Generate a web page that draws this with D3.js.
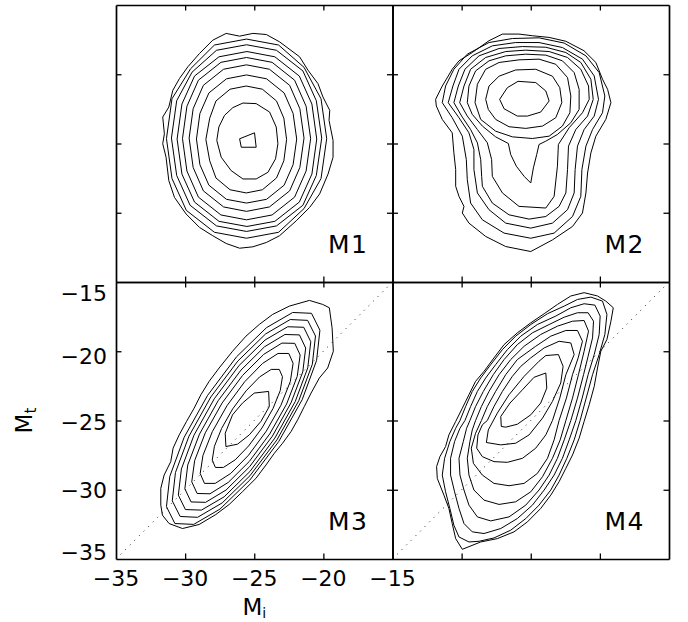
<!DOCTYPE html>
<html>
<head>
<meta charset="utf-8">
<script src="https://cdn.jsdelivr.net/npm/d3@7"></script>
<style>
  html, body { margin: 0; padding: 0; background: #ffffff; }
  svg { display: block; }
</style>
</head>
<body>
<svg id="chart" width="688" height="622"></svg>
<script>
// ---------------- DATA ----------------
const xTicks = [-35, -30, -25, -20, -15];
const yTicks = [-15, -20, -25, -30, -35];
const panelNames = ["M1", "M2", "M3", "M4"];
const xTitleMain = "M", xTitleSub = "i";
const yTitleMain = "M", yTitleSub = "t";
const diagonal = [[-35, -35], [-15, -15]];

// M1 contours (Mi, Mt), outer to inner
const m1Contours = [
  [[-27.03,-17.05],[-26.06,-17.25],[-25.10,-17.05],[-24.13,-17.13],[-23.17,-17.66],[-21.72,-18.74],[-21.11,-19.71],[-20.39,-20.68],[-20.03,-21.64],[-19.54,-22.61],[-19.59,-23.33],[-19.30,-24.78],[-19.30,-25.99],[-19.66,-27.20],[-20.27,-28.64],[-20.99,-29.61],[-21.96,-30.58],[-23.17,-31.66],[-24.13,-32.15],[-25.10,-32.46],[-26.06,-32.56],[-27.03,-32.22],[-28.00,-31.66],[-28.96,-31.06],[-29.93,-30.09],[-30.77,-28.89],[-31.18,-27.68],[-31.38,-25.99],[-31.62,-25.02],[-31.50,-24.30],[-31.62,-23.09],[-31.18,-22.37],[-30.89,-21.16],[-30.41,-20.31],[-29.81,-19.47],[-28.96,-18.50],[-28.00,-17.54]],
  [[-25.56,-17.46],[-23.24,-17.89],[-21.40,-19.50],[-20.17,-21.77],[-19.76,-24.65],[-20.17,-27.53],[-21.40,-29.70],[-23.24,-31.41],[-25.56,-31.84],[-27.88,-31.41],[-29.91,-29.83],[-30.95,-27.53],[-31.35,-24.65],[-30.95,-21.77],[-29.60,-19.60],[-27.88,-17.89]],
  [[-25.56,-17.87],[-23.39,-18.27],[-21.48,-19.76],[-20.51,-21.91],[-20.12,-24.61],[-20.51,-27.31],[-21.48,-29.46],[-23.39,-30.95],[-25.56,-31.35],[-27.73,-30.95],[-29.64,-29.46],[-30.61,-27.31],[-30.99,-24.61],[-30.61,-21.91],[-29.50,-19.85],[-27.73,-18.27]],
  [[-25.53,-18.36],[-23.51,-18.74],[-21.74,-20.13],[-20.83,-22.15],[-20.48,-24.68],[-20.83,-27.21],[-21.74,-29.23],[-23.51,-30.62],[-25.53,-30.99],[-27.55,-30.62],[-29.32,-29.23],[-30.23,-27.21],[-30.58,-24.68],[-30.23,-22.15],[-29.32,-20.13],[-27.55,-18.74]],
  [[-25.56,-18.79],[-23.71,-19.14],[-22.08,-20.43],[-21.25,-22.31],[-20.92,-24.65],[-21.25,-26.99],[-22.08,-28.87],[-23.71,-30.16],[-25.56,-30.51],[-27.41,-30.16],[-29.04,-28.87],[-29.87,-26.99],[-30.19,-24.65],[-29.87,-22.31],[-29.04,-20.43],[-27.41,-19.14]],
  [[-25.56,-19.32],[-23.90,-19.64],[-22.44,-20.80],[-21.70,-22.49],[-21.40,-24.61],[-21.70,-26.73],[-22.44,-28.42],[-23.90,-29.58],[-25.56,-29.90],[-27.22,-29.58],[-28.68,-28.42],[-29.42,-26.73],[-29.71,-24.61],[-29.42,-22.49],[-28.68,-20.80],[-27.22,-19.64]],
  [[-25.56,-20.05],[-24.11,-20.33],[-22.84,-21.35],[-22.19,-22.83],[-21.93,-24.68],[-22.19,-26.53],[-22.84,-28.01],[-24.11,-29.03],[-25.56,-29.30],[-27.01,-29.03],[-28.28,-28.01],[-28.93,-26.53],[-29.18,-24.68],[-28.93,-22.83],[-28.28,-21.35],[-27.01,-20.33]],
  [[-25.58,-20.85],[-24.41,-21.08],[-23.39,-21.93],[-22.86,-23.17],[-22.66,-24.71],[-22.86,-26.25],[-23.39,-27.49],[-24.41,-28.34],[-25.58,-28.57],[-26.75,-28.34],[-27.77,-27.49],[-28.22,-26.25],[-28.50,-24.71],[-28.22,-23.17],[-27.77,-21.93],[-26.75,-21.08]],
  [[-25.82,-22.08],[-24.86,-22.12],[-23.89,-22.73],[-23.41,-23.81],[-23.29,-25.02],[-23.46,-26.11],[-24.01,-27.08],[-24.86,-27.56],[-25.82,-27.56],[-26.67,-26.96],[-27.39,-25.99],[-27.71,-24.78],[-27.56,-23.81],[-27.15,-22.97],[-26.55,-22.41]],
  [[-26.06,-24.66],[-24.98,-24.23],[-24.86,-25.27],[-25.94,-25.27]]
];

// M2 contours
const m2Contours = [
  [[-31.88,-21.81],[-31.40,-20.85],[-30.68,-19.64],[-30.19,-19.03],[-29.23,-18.43],[-28.02,-17.58],[-27.05,-17.10],[-25.85,-17.10],[-24.88,-17.22],[-23.67,-17.34],[-22.46,-17.62],[-21.15,-18.30],[-20.29,-19.15],[-19.81,-20.36],[-19.44,-21.09],[-19.20,-22.05],[-19.57,-23.26],[-20.29,-24.47],[-20.65,-25.68],[-20.89,-27.13],[-21.01,-28.57],[-21.26,-30.02],[-21.98,-30.99],[-23.43,-31.96],[-25.00,-32.80],[-26.81,-32.44],[-28.26,-31.71],[-29.47,-30.75],[-29.95,-30.02],[-29.83,-29.54],[-30.19,-28.82],[-30.43,-28.09],[-30.43,-26.88],[-30.56,-25.68],[-30.68,-24.23],[-31.40,-23.26],[-31.83,-22.29]],
  [[-31.40,-22.05],[-31.16,-20.85],[-30.56,-19.64],[-29.59,-18.55],[-28.02,-17.71],[-26.33,-17.42],[-24.40,-17.37],[-22.58,-17.75],[-21.01,-18.67],[-20.05,-19.88],[-19.64,-21.57],[-19.81,-22.78],[-20.53,-23.99],[-21.01,-25.19],[-21.30,-26.88],[-21.38,-28.82],[-21.98,-30.27],[-23.31,-31.47],[-25.00,-31.84],[-26.93,-31.47],[-28.50,-30.51],[-29.35,-29.30],[-29.59,-27.61],[-29.66,-26.16],[-29.95,-24.47],[-30.68,-23.14]],
  [[-30.97,-22.05],[-30.63,-20.85],[-30.19,-19.64],[-29.23,-18.67],[-27.78,-17.95],[-26.09,-17.71],[-24.40,-17.71],[-22.71,-18.07],[-21.26,-18.91],[-20.41,-20.12],[-20.10,-21.81],[-20.41,-23.02],[-21.14,-23.99],[-21.62,-25.19],[-21.79,-26.88],[-21.86,-28.57],[-22.34,-29.78],[-23.43,-30.75],[-25.00,-31.11],[-26.81,-30.75],[-28.02,-29.78],[-28.86,-28.57],[-29.11,-26.88],[-29.11,-25.43],[-29.47,-24.23],[-30.19,-23.14]],
  [[-30.56,-22.05],[-30.24,-20.85],[-29.76,-19.64],[-28.74,-18.67],[-27.29,-18.14],[-25.60,-18.00],[-23.91,-18.05],[-22.46,-18.43],[-21.38,-19.15],[-20.65,-20.36],[-20.48,-21.81],[-20.89,-23.02],[-21.74,-23.99],[-22.27,-25.19],[-22.34,-26.88],[-22.46,-28.57],[-22.95,-29.54],[-23.91,-30.27],[-25.12,-30.46],[-26.57,-30.15],[-27.78,-29.30],[-28.50,-28.09],[-28.55,-27.37],[-28.62,-26.16],[-28.86,-24.95],[-29.35,-23.99],[-30.00,-23.02]],
  [[-30.14,-22.05],[-29.83,-20.85],[-29.35,-19.64],[-28.26,-18.79],[-26.81,-18.36],[-25.36,-18.26],[-23.67,-18.36],[-22.34,-18.79],[-21.38,-19.64],[-20.82,-20.85],[-20.77,-21.81],[-21.26,-22.78],[-22.22,-23.86],[-23.00,-25.07],[-23.07,-26.64],[-23.31,-28.82],[-23.91,-29.66],[-25.85,-29.54],[-27.05,-28.57],[-27.78,-27.37],[-27.83,-26.16],[-28.14,-24.95],[-28.86,-23.99],[-29.59,-23.02]],
  [[-29.59,-22.05],[-29.47,-20.85],[-28.99,-19.76],[-28.02,-19.03],[-26.81,-18.67],[-25.36,-18.55],[-23.91,-18.62],[-22.71,-19.03],[-21.86,-19.88],[-21.50,-21.09],[-21.50,-22.54],[-22.10,-23.50],[-23.07,-24.35],[-23.91,-24.83],[-24.40,-25.07],[-24.57,-25.80],[-24.81,-26.76],[-25.00,-27.85],[-25.48,-27.37],[-26.04,-26.64],[-26.45,-25.80],[-26.62,-25.00],[-27.54,-24.52],[-28.50,-23.74],[-29.23,-22.90]],
  [[-29.03,-22.05],[-28.86,-20.72],[-28.26,-19.64],[-27.29,-19.15],[-25.85,-18.96],[-24.40,-18.91],[-23.19,-19.28],[-22.34,-20.24],[-22.10,-21.57],[-22.17,-22.78],[-22.71,-23.74],[-23.67,-24.47],[-24.88,-24.64],[-26.33,-24.52],[-27.54,-24.11],[-28.62,-23.26]],
  [[-28.26,-21.81],[-28.02,-20.85],[-27.29,-20.14],[-26.09,-19.69],[-24.64,-19.64],[-23.43,-20.14],[-22.90,-20.97],[-22.75,-22.05],[-23.19,-23.14],[-24.15,-23.74],[-25.36,-23.91],[-26.57,-23.79],[-27.54,-23.26],[-28.07,-22.54]],
  [[-27.25,-21.81],[-26.69,-20.97],[-25.92,-20.51],[-24.64,-20.60],[-23.91,-21.21],[-23.67,-21.93],[-24.28,-22.73],[-25.24,-23.02],[-25.97,-23.02],[-26.93,-22.49]]
];

// M3 contours
const m3Contours = [
  [[-21.01,-16.33],[-20.05,-16.62],[-19.57,-16.86],[-19.37,-18.31],[-19.28,-20.00],[-19.69,-21.21],[-20.29,-21.93],[-20.89,-23.02],[-21.38,-23.99],[-21.86,-24.95],[-22.34,-25.80],[-22.95,-26.64],[-23.55,-27.37],[-24.15,-28.21],[-24.88,-29.18],[-25.85,-30.14],[-26.81,-31.06],[-27.78,-31.79],[-28.99,-32.51],[-30.19,-32.80],[-31.16,-32.44],[-31.64,-31.84],[-31.76,-31.11],[-31.76,-29.90],[-31.52,-28.94],[-31.04,-27.97],[-30.87,-27.00],[-30.43,-26.04],[-29.90,-25.07],[-29.35,-24.11],[-28.86,-23.14],[-28.26,-22.17],[-27.54,-21.21],[-26.57,-20.00],[-25.60,-18.91],[-24.64,-18.07],[-23.67,-17.34],[-22.46,-16.74]],
  [[-20.86,-17.26],[-20.25,-18.48],[-20.49,-20.66],[-21.53,-23.49],[-23.23,-26.52],[-25.32,-29.30],[-27.48,-31.40],[-29.38,-32.50],[-30.74,-32.44],[-31.35,-31.22],[-31.11,-29.04],[-30.07,-26.21],[-28.37,-23.18],[-26.28,-20.40],[-24.12,-18.30],[-22.22,-17.20]],
  [[-21.14,-17.77],[-20.57,-18.90],[-20.80,-20.94],[-21.78,-23.57],[-23.36,-26.40],[-25.31,-28.99],[-27.32,-30.95],[-29.10,-31.99],[-30.36,-31.93],[-30.93,-30.80],[-30.70,-28.76],[-29.72,-26.13],[-28.14,-23.30],[-26.19,-20.71],[-24.18,-18.75],[-22.40,-17.71]],
  [[-21.42,-18.27],[-20.91,-19.31],[-21.13,-21.20],[-22.04,-23.64],[-23.51,-26.27],[-25.31,-28.68],[-27.18,-30.51],[-28.82,-31.47],[-29.98,-31.43],[-30.49,-30.39],[-30.27,-28.50],[-29.36,-26.06],[-27.89,-23.43],[-26.09,-21.02],[-24.22,-19.19],[-22.58,-18.23]],
  [[-21.73,-18.82],[-21.28,-19.77],[-21.49,-21.49],[-22.34,-23.72],[-23.69,-26.13],[-25.34,-28.34],[-27.04,-30.02],[-28.52,-30.91],[-29.57,-30.88],[-30.02,-29.93],[-29.81,-28.21],[-28.96,-25.98],[-27.61,-23.57],[-25.96,-21.36],[-24.26,-19.68],[-22.78,-18.79]],
  [[-22.07,-19.43],[-21.68,-20.27],[-21.89,-21.81],[-22.66,-23.81],[-23.88,-25.97],[-25.36,-27.96],[-26.88,-29.47],[-28.20,-30.29],[-29.13,-30.27],[-29.52,-29.43],[-29.31,-27.89],[-28.54,-25.89],[-27.32,-23.73],[-25.84,-21.74],[-24.32,-20.23],[-23.00,-19.41]],
  [[-22.50,-20.16],[-22.19,-20.87],[-22.39,-22.18],[-23.07,-23.90],[-24.13,-25.77],[-25.41,-27.50],[-26.70,-28.82],[-27.82,-29.54],[-28.60,-29.54],[-28.91,-28.83],[-28.71,-27.52],[-28.03,-25.80],[-26.97,-23.93],[-25.69,-22.20],[-24.40,-20.88],[-23.28,-20.16]],
  [[-23.19,-21.31],[-22.96,-21.84],[-23.12,-22.84],[-23.64,-24.13],[-24.44,-25.54],[-25.41,-26.84],[-26.38,-27.84],[-27.23,-28.39],[-27.81,-28.39],[-28.04,-27.86],[-27.88,-26.86],[-27.36,-25.57],[-26.56,-24.16],[-25.59,-22.86],[-24.62,-21.86],[-23.77,-21.31]],
  [[-27.05,-26.88],[-27.10,-25.92],[-26.57,-24.59],[-25.85,-23.74],[-25.00,-23.02],[-23.96,-22.90],[-23.91,-23.99],[-24.52,-25.07],[-25.36,-26.04],[-26.21,-26.71]]
];

// M4 contours
const m4Contours = [
  [[-22.10,-16.01],[-21.14,-15.77],[-20.17,-16.01],[-19.57,-16.38],[-19.03,-16.86],[-19.20,-17.83],[-19.49,-19.15],[-19.93,-20.00],[-20.17,-21.21],[-20.41,-22.54],[-20.77,-23.86],[-21.14,-25.07],[-21.50,-26.28],[-21.98,-27.49],[-22.46,-28.45],[-22.95,-29.42],[-23.55,-30.39],[-24.28,-31.35],[-25.24,-32.32],[-26.21,-33.04],[-27.42,-33.53],[-28.62,-33.77],[-29.95,-34.30],[-30.43,-33.53],[-30.68,-32.44],[-30.92,-31.35],[-31.28,-30.39],[-31.76,-29.18],[-31.81,-28.33],[-31.57,-27.61],[-31.16,-26.88],[-30.92,-26.04],[-30.43,-25.07],[-29.95,-24.11],[-29.47,-23.14],[-28.99,-22.17],[-28.38,-21.45],[-27.66,-20.48],[-26.93,-19.52],[-25.97,-18.67],[-25.00,-17.95],[-24.03,-17.29],[-23.07,-16.62]],
  [[-23.79,-17.29],[-22.58,-16.74],[-21.62,-16.26],[-20.65,-16.09],[-19.81,-16.38],[-19.49,-17.34],[-19.64,-18.79],[-20.05,-20.24],[-20.53,-21.69],[-20.99,-23.38],[-21.43,-25.00],[-21.86,-26.40],[-22.39,-27.73],[-22.95,-28.94],[-23.55,-30.02],[-24.40,-31.11],[-25.36,-32.08],[-26.45,-32.92],[-27.66,-33.48],[-28.74,-33.72],[-29.47,-33.77],[-30.19,-33.41],[-30.56,-32.56],[-30.85,-31.35],[-31.16,-30.15],[-31.40,-28.94],[-31.23,-27.73],[-30.85,-26.52],[-30.43,-25.56],[-30.12,-25.00],[-29.71,-23.99],[-29.23,-22.90],[-28.62,-21.93],[-27.90,-20.97],[-27.05,-19.88],[-26.09,-18.91],[-25.00,-18.07]],
  [[-24.52,-18.07],[-23.19,-17.46],[-22.10,-16.86],[-21.14,-16.57],[-20.36,-16.67],[-19.98,-17.46],[-20.05,-18.79],[-20.41,-20.24],[-20.85,-21.69],[-21.28,-23.38],[-21.74,-25.00],[-22.22,-26.40],[-22.71,-27.73],[-23.31,-28.94],[-24.03,-30.02],[-24.88,-31.11],[-25.97,-32.08],[-27.17,-32.80],[-28.38,-33.16],[-29.23,-33.04],[-29.83,-32.44],[-30.19,-31.35],[-30.51,-30.15],[-30.80,-28.94],[-30.80,-27.73],[-30.51,-26.52],[-30.12,-25.56],[-29.76,-25.00],[-29.35,-23.99],[-28.86,-22.90],[-28.26,-21.93],[-27.54,-20.97],[-26.69,-19.88],[-25.72,-18.91]],
  [[-23.67,-18.07],[-22.58,-17.54],[-21.62,-17.22],[-20.85,-17.22],[-20.46,-17.83],[-20.53,-19.03],[-20.85,-20.36],[-21.18,-21.69],[-21.62,-23.38],[-22.10,-25.00],[-22.58,-26.40],[-23.07,-27.73],[-23.67,-28.94],[-24.40,-30.02],[-25.36,-31.11],[-26.57,-31.96],[-27.90,-32.25],[-28.86,-31.96],[-29.47,-31.11],[-29.83,-30.02],[-30.12,-28.94],[-30.19,-27.73],[-29.88,-26.52],[-29.64,-25.56],[-29.40,-25.00],[-28.99,-23.99],[-28.43,-22.90],[-27.71,-21.69],[-26.93,-20.60],[-25.97,-19.52],[-24.88,-18.67]],
  [[-24.28,-18.79],[-23.07,-18.19],[-21.98,-17.83],[-21.14,-17.78],[-20.82,-18.55],[-21.14,-20.00],[-21.55,-21.69],[-21.98,-23.38],[-22.46,-25.00],[-22.87,-26.40],[-23.43,-27.73],[-24.15,-29.06],[-25.00,-30.15],[-26.09,-30.87],[-27.29,-31.06],[-28.38,-30.75],[-29.11,-30.02],[-29.47,-28.94],[-29.59,-27.73],[-29.40,-26.52],[-29.23,-25.68],[-28.99,-25.00],[-28.57,-23.99],[-28.02,-22.90],[-27.29,-21.69],[-26.45,-20.60],[-25.48,-19.64]],
  [[-24.64,-19.64],[-23.55,-18.91],[-22.46,-18.50],[-21.62,-18.50],[-21.26,-19.28],[-21.57,-20.48],[-21.98,-21.69],[-22.42,-23.38],[-22.95,-25.00],[-23.31,-26.40],[-23.79,-27.73],[-24.52,-28.82],[-25.48,-29.54],[-26.57,-29.71],[-27.66,-29.54],[-28.50,-28.94],[-29.15,-28.09],[-29.30,-27.00],[-28.99,-25.92],[-28.57,-25.00],[-28.14,-23.99],[-27.54,-22.90],[-26.81,-21.69],[-25.97,-20.60]],
  [[-25.00,-20.48],[-24.03,-19.76],[-22.95,-19.28],[-22.10,-19.40],[-21.86,-20.24],[-22.46,-21.69],[-22.90,-23.38],[-23.43,-25.00],[-23.91,-26.04],[-24.64,-27.00],[-25.60,-27.73],[-26.69,-28.02],[-27.66,-27.97],[-28.50,-27.61],[-28.91,-27.00],[-28.82,-26.04],[-28.50,-25.31],[-28.14,-25.00],[-27.66,-23.99],[-27.05,-22.90],[-26.33,-21.81],[-25.72,-21.09]],
  [[-28.21,-26.59],[-28.07,-25.68],[-27.42,-24.47],[-26.57,-23.14],[-25.48,-21.81],[-24.40,-20.72],[-23.91,-20.31],[-23.00,-20.24],[-22.66,-21.09],[-22.83,-22.29],[-23.43,-23.62],[-24.15,-24.83],[-25.12,-26.04],[-26.09,-26.64],[-27.17,-26.76]],
  [[-27.13,-25.43],[-27.17,-24.71],[-26.50,-23.74],[-25.60,-22.78],[-24.76,-21.88],[-23.91,-21.57],[-23.84,-22.66],[-24.28,-23.74],[-25.00,-24.59],[-25.97,-25.27],[-26.81,-25.48]]
];

// ---------------- LAYOUT ----------------
const X0 = 116, Y0 = 5, PW = 276.5, PH = 277;
const TICK = 5.5;
const FONT = "'DejaVu Sans', 'Liberation Sans', Arial, sans-serif";
// vertical shift (px) of each y tick label centre relative to its tick (top to bottom)
const yLabelShift = [10.5, 5.0, 1.3, 0.5, -7.2];

const panels = [
  { name: panelNames[0], contours: m1Contours, col: 0, row: 0, diag: false, labels: false },
  { name: panelNames[1], contours: m2Contours, col: 1, row: 0, diag: false, labels: false },
  { name: panelNames[2], contours: m3Contours, col: 0, row: 1, diag: true,  labels: true },
  { name: panelNames[3], contours: m4Contours, col: 1, row: 1, diag: true,  labels: false }
];

const svg = d3.select("#chart");
svg.append("rect").attr("width", 688).attr("height", 622).attr("fill", "#fff");

const fmt = v => (v < 0 ? "\u2212" : "") + Math.abs(v);

panels.forEach(p => {
  const x = d3.scaleLinear().domain([-35, -15]).range([X0 + p.col * PW, X0 + (p.col + 1) * PW]);
  const y = d3.scaleLinear().domain([-35, -15]).range([Y0 + (p.row + 1) * PH, Y0 + p.row * PH]);
  const g = svg.append("g");

  // dotted 1:1 line
  if (p.diag) {
    g.append("path")
      .attr("d", d3.line().x(d => x(d[0])).y(d => y(d[1]))(diagonal))
      .attr("fill", "none")
      .attr("stroke", "#222")
      .attr("stroke-width", 1)
      .attr("stroke-dasharray", "1,5.5");
  }

  // contours
  const line = d3.line().x(d => x(d[0])).y(d => y(d[1])).curve(d3.curveLinearClosed);
  g.selectAll("path.contour")
    .data(p.contours)
    .join("path")
    .attr("class", "contour")
    .attr("d", line)
    .attr("fill", "none")
    .attr("stroke", "#000")
    .attr("stroke-width", 1)
    .attr("stroke-linejoin", "miter");

  // axes on all four sides with inward ticks
  const inner = xTicks.slice(1, -1);
  const innerY = yTicks.slice(1, -1);
  const axes = [
    { a: d3.axisBottom(x).tickValues(inner), t: `translate(0,${y(-35)})` },
    { a: d3.axisTop(x).tickValues(inner),    t: `translate(0,${y(-15)})` },
    { a: d3.axisLeft(y).tickValues(innerY),  t: `translate(${x(-35)},0)` },
    { a: d3.axisRight(y).tickValues(innerY), t: `translate(${x(-15)},0)` }
  ];
  axes.forEach(ax => {
    const ag = g.append("g")
      .attr("transform", ax.t)
      .call(ax.a.tickSizeInner(-TICK).tickSizeOuter(0).tickFormat(""));
    ag.select(".domain").attr("stroke", "#000").attr("stroke-width", 1.7);
    ag.selectAll(".tick line").attr("stroke", "#000").attr("stroke-width", 1.3);
  });

  // panel label
  g.append("text")
    .attr("x", x(-15) - 24)
    .attr("y", y(-35) - 29.5)
    .attr("text-anchor", "end")
    .attr("font-family", FONT)
    .attr("font-size", 25)
    .attr("letter-spacing", 1.5)
    .attr("fill", "#000")
    .text(p.name);

  if (p.labels) {
    // x tick labels
    g.selectAll("text.xl")
      .data(xTicks)
      .join("text")
      .attr("class", "xl")
      .attr("x", d => x(d))
      .attr("y", y(-35) + 27)
      .attr("text-anchor", "middle")
      .attr("font-family", FONT)
      .attr("font-size", 22)
      .attr("fill", "#000")
      .text(fmt);
    // y tick labels
    g.selectAll("text.yl")
      .data(yTicks)
      .join("text")
      .attr("class", "yl")
      .attr("x", x(-35) - 9)
      .attr("y", (d, i) => y(d) + yLabelShift[i] + 8)
      .attr("text-anchor", "end")
      .attr("font-family", FONT)
      .attr("font-size", 22)
      .attr("fill", "#000")
      .text(fmt);
    // x title
    const xt = g.append("text")
      .attr("x", (x(-35) + x(-15)) / 2)
      .attr("y", y(-35) + 55.5)
      .attr("text-anchor", "middle")
      .attr("font-family", FONT)
      .attr("font-size", 23)
      .attr("fill", "#000");
    xt.append("tspan").text(xTitleMain);
    xt.append("tspan").attr("font-size", 14).attr("dy", 3.5).text(xTitleSub);
    // y title
    const yt = svg.append("text")
      .attr("transform", `translate(32,${(y(-35) + y(-15)) / 2}) rotate(-90)`)
      .attr("text-anchor", "middle")
      .attr("font-family", FONT)
      .attr("font-size", 23)
      .attr("fill", "#000");
    yt.append("tspan").text(yTitleMain);
    yt.append("tspan").attr("font-size", 15).attr("dy", 4).text(yTitleSub);
  }
});
</script>
</body>
</html>
